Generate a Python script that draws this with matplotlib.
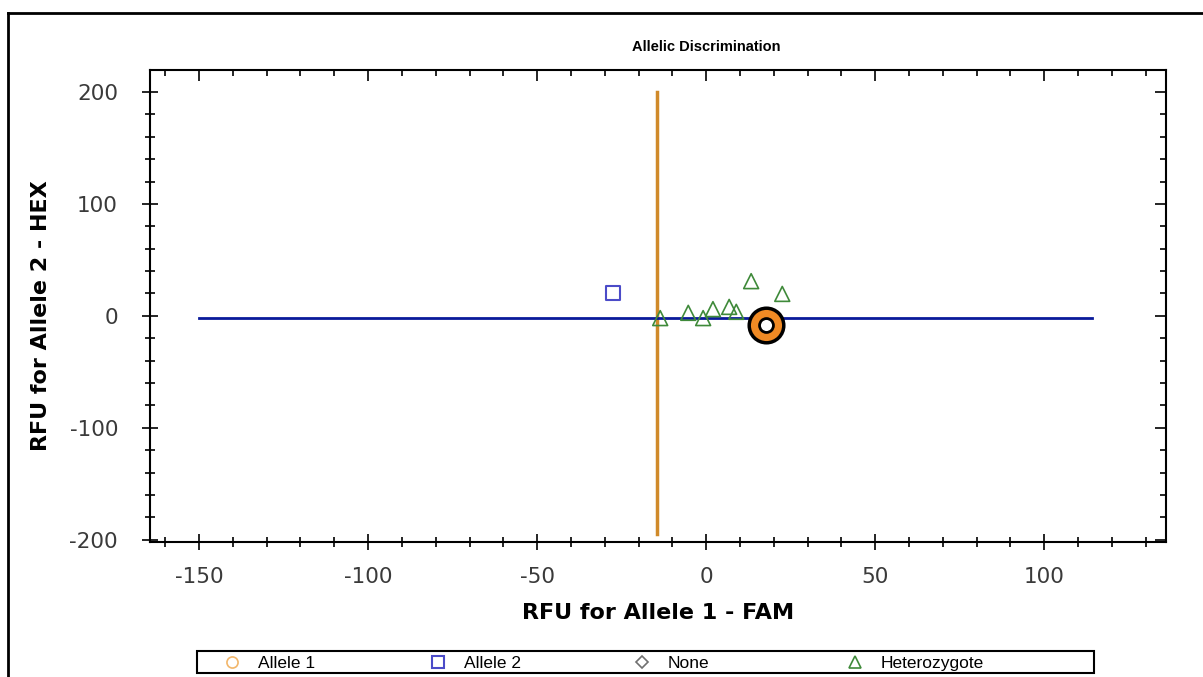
import matplotlib
matplotlib.use('Agg')
import matplotlib.pyplot as plt
from matplotlib.lines import Line2D
from matplotlib.patches import Rectangle

plt.rcParams['axes.unicode_minus'] = False

# Data
allele1_x = [17.8]
allele1_y = [-8.0]
allele2_x = [-27.5]
allele2_y = [20.5]
none_x = []
none_y = []
het_x = [-13.6, -5.3, -0.9, 2.0, 6.8, 8.9, 13.3, 22.5]
het_y = [-2.0, 2.7, -2.0, 6.0, 8.0, 3.6, 31.0, 19.6]

# Threshold lines
fam_threshold = -14.5
fam_span = [-195, 200]
hex_threshold = -2.0
hex_span = [-150, 114]

x_ticks = [-150, -100, -50, 0, 50, 100]
y_ticks = [-200, -100, 0, 100, 200]
legend_labels = ['Allele 1', 'Allele 2', 'None', 'Heterozygote']

orange = '#F08A24'
blue = '#4B4BC8'
green = '#3F8A3A'
gray = '#707070'
font = 'Liberation Sans'
W, H = 1203, 677

fig = plt.figure(figsize=(W / 100, H / 100), dpi=100)
fig.patch.set_facecolor('white')

# Outer window frame (top + left edge)
fig.add_artist(Line2D([8 / W, 8 / W], [0, 1 - 13 / H], transform=fig.transFigure,
                      color='black', lw=2))
fig.add_artist(Line2D([8 / W, 1], [1 - 13 / H, 1 - 13 / H], transform=fig.transFigure,
                      color='black', lw=2))

ax = fig.add_axes([150 / W, 1 - 542 / H, (1166 - 150) / W, (542 - 70) / H])
ax.set_xlim(-164.5, 136)
ax.set_ylim(-202, 219.6)

# Threshold lines
ax.plot([fam_threshold, fam_threshold], fam_span, color='#D08A2A', lw=2.5, zorder=2)
ax.plot(hex_span, [hex_threshold, hex_threshold], color='#0A1A9A', lw=2, zorder=2)

# Points
ax.scatter(allele2_x, allele2_y, marker='s', s=110, facecolors='none', edgecolors=blue,
           linewidths=1.5, zorder=3)
ax.scatter(het_x, het_y, marker='^', s=115, facecolors='none', edgecolors=green,
           linewidths=1.2, zorder=3)
# selected allele 1 well: large ring
ax.scatter(allele1_x, allele1_y, marker='o', s=620, facecolors=orange, edgecolors='black',
           linewidths=2.5, zorder=4)
ax.scatter(allele1_x, allele1_y, marker='o', s=100, facecolors='white', edgecolors='black',
           linewidths=2, zorder=5)
if none_x:
    ax.scatter(none_x, none_y, marker='D', s=60, facecolors='none', edgecolors=gray, zorder=3)

ax.set_xticks(x_ticks)
ax.set_yticks(y_ticks)
ax.set_xticks(range(-160, 140, 10), minor=True)
ax.set_yticks(range(-200, 220, 20), minor=True)
ax.tick_params(which='major', direction='inout', length=12, width=1.2,
               labelsize=15.5, labelcolor='#3a3a3a')
ax.tick_params(axis='x', which='major', pad=12)
ax.tick_params(axis='y', which='major', pad=17)
ax.tick_params(which='minor', direction='inout', length=7, width=1.2)
for lab in ax.get_xticklabels() + ax.get_yticklabels():
    lab.set_fontfamily('DejaVu Sans')
for s in ax.spines.values():
    s.set_linewidth(1.5)

# Top/right ticks point inward only
ax2 = fig.add_axes(ax.get_position(), sharex=ax, sharey=ax, frameon=False)
ax2.patch.set_visible(False)
ax2.tick_params(which='both', direction='in', top=True, right=True, bottom=False, left=False,
                labeltop=False, labelright=False, labelbottom=False, labelleft=False)
ax2.tick_params(which='major', length=8, width=1.2)
ax2.tick_params(which='minor', length=4, width=1.2)

fig.text(658 / W, 1 - 613 / H, 'RFU for Allele 1 - FAM', fontsize=16, fontweight='bold',
         family='DejaVu Sans', ha='center', va='center')
fig.text(41 / W, 1 - 316 / H, 'RFU for Allele 2 - HEX', fontsize=16, fontweight='bold',
         family='DejaVu Sans', ha='center', va='center', rotation=90)
fig.text(706 / W, 1 - 47 / H, 'Allelic Discrimination', fontsize=10.5, fontweight='bold',
         family=font, ha='center', va='center')

# Legend box drawn by hand so the columns sit where the reference has them
fig.add_artist(Rectangle((197 / W, 1 - 673 / H), (1094 - 197) / W, 22 / H,
                         transform=fig.transFigure, facecolor='white', edgecolor='black',
                         lw=1.5))
legend_styles = [
    dict(marker='o', markersize=8, markeredgecolor='#F2B66A', markeredgewidth=1.2),
    dict(marker='s', markersize=8, markeredgecolor=blue, markeredgewidth=1.5),
    dict(marker='D', markersize=6, markeredgecolor=gray, markeredgewidth=1.2),
    dict(marker='^', markersize=9, markeredgecolor=green, markeredgewidth=1.2),
]
legend_x = [232, 438, 642, 855]
ly = 1 - 662 / H
for px, label, style in zip(legend_x, legend_labels, legend_styles):
    fig.add_artist(Line2D([px / W], [ly], transform=fig.transFigure, ls='none',
                          markerfacecolor='none', **style))
    fig.text((px + 26) / W, ly, label, fontsize=12.5, family=font, ha='left',
             va='center_baseline')

plt.savefig('out.png', dpi=100, facecolor='white')
